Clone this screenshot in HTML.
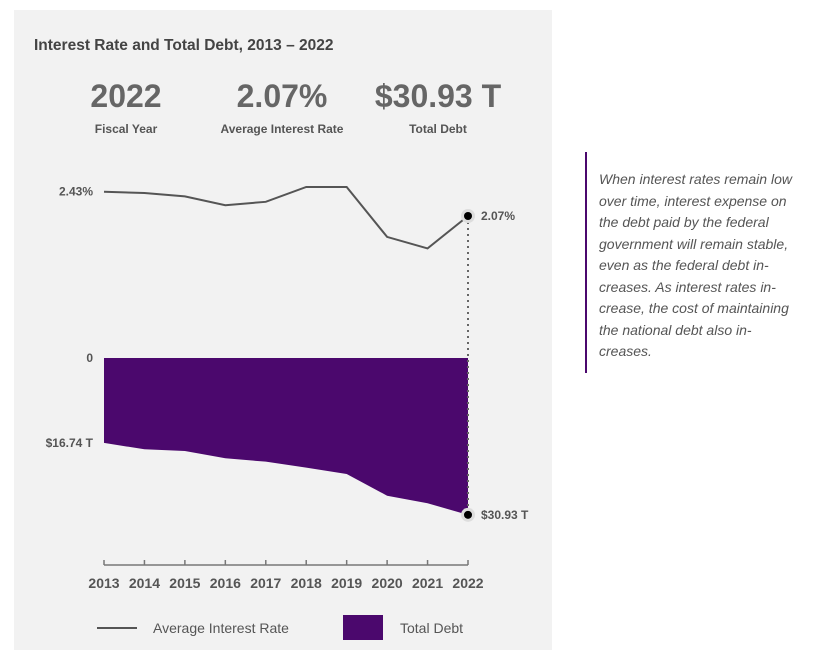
<!DOCTYPE html>
<html><head><meta charset="utf-8"><style>
body{margin:0;width:837px;height:657px;background:#fff;font-family:"Liberation Sans",sans-serif;position:relative;overflow:hidden}
#panel{position:absolute;left:14px;top:10px;width:538px;height:640px;background:#f2f2f2}
#note{position:absolute;left:585px;top:152px;height:221px;border-left:2px solid #4b086d;padding-left:12px;width:240px;font-style:italic;font-size:14px;line-height:21.5px;color:#555;box-sizing:border-box;padding-top:17px;white-space:nowrap}
svg{position:absolute;left:0;top:0}
</style></head><body>
<div id="panel"></div>
<div id="note">When interest rates remain low<br>over time, interest expense on<br>the debt paid by the federal<br>government will remain stable,<br>even as the federal debt in-<br>creases. As interest rates in-<br>crease, the cost of maintaining<br>the national debt also in-<br>creases.</div>
<svg id="chart" width="837" height="657">
<text x="34" y="50" font-size="15.5" font-weight="bold" fill="#444">Interest Rate and Total Debt, 2013 – 2022</text>
<g font-weight="bold" fill="#666" text-anchor="middle">
<text x="126" y="107" font-size="32">2022</text>
<text x="126" y="133" font-size="12" fill="#555">Fiscal Year</text>
<text x="282" y="107" font-size="32">2.07%</text>
<text x="282" y="133" font-size="12" fill="#555">Average Interest Rate</text>
<text x="438" y="107" font-size="32">$30.93 T</text>
<text x="438" y="133" font-size="12" fill="#555">Total Debt</text>
</g>
<g id="plot"></g>
<line x1="97" y1="628" x2="137" y2="628" stroke="#555" stroke-width="2"/>
<text x="153" y="633" font-size="14" fill="#555">Average Interest Rate</text>
<rect x="343" y="615" width="40" height="25" fill="#4b086d"/>
<text x="400" y="633" font-size="14" fill="#555">Total Debt</text>
</svg>
<script>
const years=[2013,2014,2015,2016,2017,2018,2019,2020,2021,2022];
const rates=[2.43,2.41,2.36,2.23,2.28,2.50,2.50,1.76,1.59,2.07];
const debts=[16.74,18.01,18.34,19.78,20.45,21.63,22.88,27.16,28.66,30.93];
const NS="http://www.w3.org/2000/svg";
const g=document.getElementById('plot');
const x=i=>104+i*(468-104)/(years.length-1);
const yr=v=>191.7-(v-2.43)*67.5;
const yd=v=>358+v*5.07;
function mk(t,a){const e=document.createElementNS(NS,t);for(const k in a)e.setAttribute(k,a[k]);g.appendChild(e);return e;}
let n=years.length-1;
let d='M'+x(0)+' '+yd(0);years.forEach((y,i)=>d+=' L'+x(i)+' '+yd(debts[i]));d+=' L'+x(n)+' '+yd(0)+'Z';
let area=mk('path',{d:d,fill:'#4b086d'});


let ld='';rates.forEach((v,i)=>ld+=(i?' L':'M')+x(i)+' '+yr(v));
let line=mk('path',{d:ld,fill:'none',stroke:'#555','stroke-width':2});


let dl=mk('line',{x1:x(n),x2:x(n),y1:yr(rates[n]),y2:yd(debts[n]),stroke:'#666','stroke-width':2,'stroke-dasharray':'2 4'});


[[yr(rates[n]),'rate-marker'],[yd(debts[n]),'debt-marker']].forEach(p=>{
 mk('circle',{cx:x(n),cy:p[0],r:7,fill:'#ddd'});
 let c=mk('circle',{cx:x(n),cy:p[0],r:4,fill:'#000'});
 
 
});
function lab(t,xx,yy,anchor,name){let e=mk('text',{x:xx,y:yy,'font-size':12,'font-weight':'bold',fill:'#555','text-anchor':anchor});e.textContent=t;
 
 }
lab(rates[0].toFixed(2)+'%',93,yr(rates[0])+4,'end','rate-start-label');
lab(rates[n].toFixed(2)+'%',481,yr(rates[n])+4,'start','rate-end-label');
lab('0',93,yd(0)+4,'end','debt-zero-label');
lab('$'+debts[0].toFixed(2)+' T',93,yd(debts[0])+4,'end','debt-start-label');
lab('$'+debts[n].toFixed(2)+' T',481,yd(debts[n])+4,'start','debt-end-label');
let ax=mk('line',{x1:x(0),x2:x(n),y1:565,y2:565,stroke:'#777','stroke-width':1.5});


years.forEach((y,i)=>{
 mk('line',{x1:x(i),x2:x(i),y1:560,y2:565,stroke:'#777','stroke-width':1.5});
 let t=mk('text',{x:x(i),y:588,'font-size':14,'font-weight':'bold',fill:'#555','text-anchor':'middle'});t.textContent=y;
 
 
});
</script>
</body></html>
